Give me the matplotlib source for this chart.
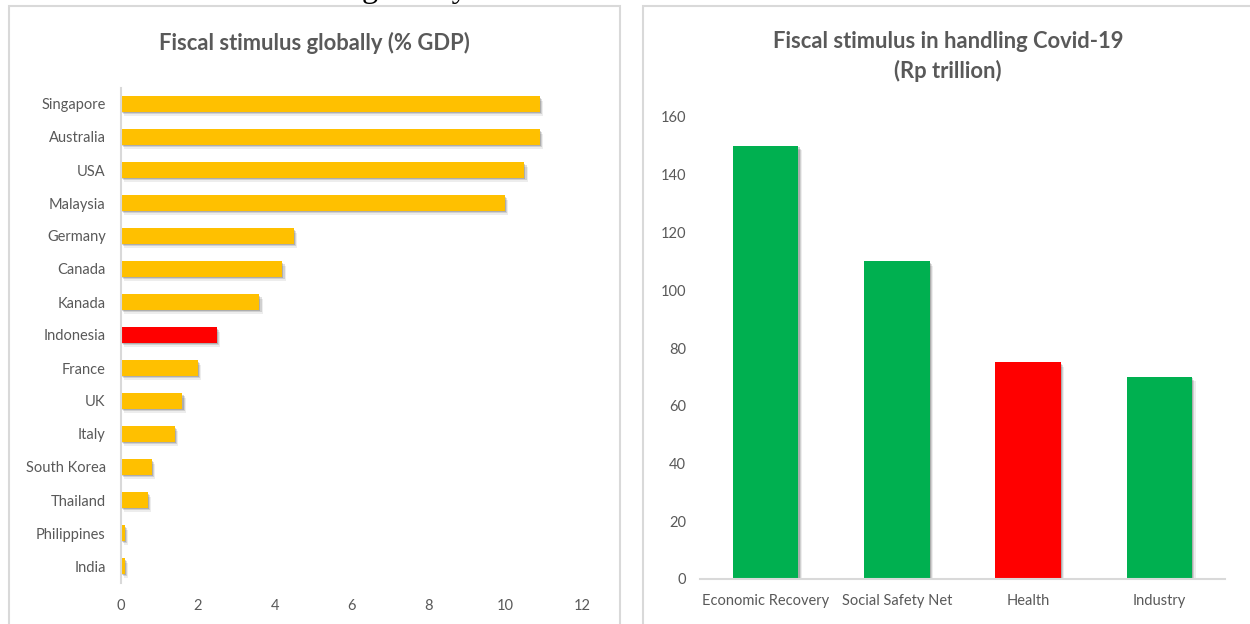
import matplotlib.pyplot as plt
import matplotlib.patheffects as pe
from matplotlib.patches import Rectangle

# ── Data ────────────────────────────────────────────────────
countries = ['Singapore', 'Australia', 'USA', 'Malaysia', 'Germany', 'Canada',
             'Kanada', 'Indonesia', 'France', 'UK', 'Italy', 'South Korea',
             'Thailand', 'Philippines', 'India']
gdp_share = [10.9, 10.9, 10.5, 10.0, 4.5, 4.2, 3.6, 2.5, 2.0, 1.6, 1.4, 0.8, 0.7, 0.1, 0.1]

programs = ['Economic Recovery', 'Social Safety Net', 'Health', 'Industry']
rp_trillion = [150, 110, 75, 70]

GOLD = '#FFC000'
RED = '#FF0000'
GREEN = '#00B050'
TEXT = '#595959'
GRID = '#D9D9D9'

plt.rcParams['font.family'] = ['Lato', 'DejaVu Sans']

W, H = 1250, 624
fig = plt.figure(figsize=(W / 100, H / 100), dpi=100)


def px_box(x0, y0, x1, y1):
    # pixel box (top-left origin) -> figure fraction [l, b, w, h]
    return [x0 / W, 1 - y1 / H, (x1 - x0) / W, (y1 - y0) / H]


# soft drop shadow under each bar
shadow = [pe.SimplePatchShadow(offset=(0.8, -1.0), shadow_rgbFace='k', alpha=0.16),
          pe.SimplePatchShadow(offset=(1.6, -2.0), shadow_rgbFace='k', alpha=0.12),
          pe.SimplePatchShadow(offset=(2.4, -3.0), shadow_rgbFace='k', alpha=0.07),
          pe.Normal()]

# panel frames
fig.patches.append(Rectangle((9 / W, -0.05), (620 - 9) / W, 1.05 - 6 / H,
                             transform=fig.transFigure, fill=False,
                             edgecolor=GRID, linewidth=1.5))
fig.patches.append(Rectangle((643 / W, -0.05), (1265 - 643) / W, 1.05 - 6 / H,
                             transform=fig.transFigure, fill=False,
                             edgecolor=GRID, linewidth=1.5))

# leftover heading above the panels
fig.text(362 / W, 1 + 3 / H, 'globally', family='Liberation Serif', fontsize=23.5,
         color='black', va='baseline', ha='left')

# ── Left: fiscal stimulus as % of GDP ───────────────────────
ax1 = fig.add_axes(px_box(121, 87.5, 582, 582.5))
colors = [RED if c == 'Indonesia' else GOLD for c in countries]
ypos = list(range(len(countries)))
bars = ax1.barh(ypos, gdp_share, height=0.46, color=colors)
for b in bars:
    b.set_path_effects(shadow)
ax1.set_yticks(ypos)
ax1.set_yticklabels(countries)
ax1.set_ylim(len(countries) - 0.5, -0.5)
ax1.set_xlim(0, 12)
ax1.set_xticks(range(0, 13, 2))
ax1.tick_params(axis='both', length=0, labelsize=10.5, labelcolor=TEXT)
ax1.tick_params(axis='x', pad=12)
ax1.tick_params(axis='y', pad=11)
for s in ['top', 'right', 'bottom']:
    ax1.spines[s].set_visible(False)
ax1.spines['left'].set_color(GRID)
ax1.spines['left'].set_linewidth(1.5)
fig.text(314 / W, 1 - 43 / H, 'Fiscal stimulus globally (% GDP)', ha='center',
         va='center', fontsize=15.8, fontweight='bold', color=TEXT)

# ── Right: fiscal stimulus in Rp trillion ───────────────────
ax2 = fig.add_axes(px_box(700, 117, 1225, 579))
colors2 = [RED if p == 'Health' else GREEN for p in programs]
xpos = list(range(len(programs)))
bars2 = ax2.bar(xpos, rp_trillion, width=0.5, color=colors2)
for b in bars2:
    b.set_path_effects(shadow)
ax2.set_xticks(xpos)
ax2.set_xticklabels(programs)
ax2.set_xlim(-0.5, len(programs) - 0.5)
ax2.set_ylim(0, 160)
ax2.set_yticks(range(0, 161, 20))
ax2.tick_params(axis='both', length=0, labelsize=10.5, labelcolor=TEXT)
ax2.tick_params(axis='x', pad=11)
ax2.tick_params(axis='y', pad=10)
for s in ['top', 'right', 'left']:
    ax2.spines[s].set_visible(False)
ax2.spines['bottom'].set_color(GRID)
ax2.spines['bottom'].set_linewidth(1.5)
fig.text(948 / W, 1 - 41 / H, 'Fiscal stimulus in handling Covid-19', ha='center',
         va='center', fontsize=15.8, fontweight='bold', color=TEXT)
fig.text(948 / W, 1 - 71 / H, '(Rp trillion)', ha='center',
         va='center', fontsize=15.8, fontweight='bold', color=TEXT)

fig.savefig('out.png', dpi=100)
